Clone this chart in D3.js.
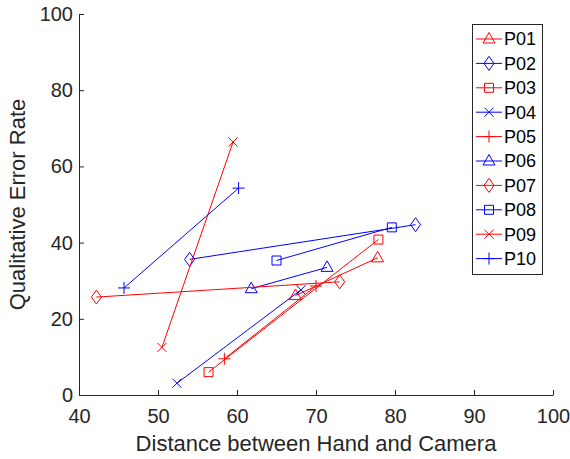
<!DOCTYPE html>
<html>
<head>
<meta charset="utf-8">
<script src="https://cdn.jsdelivr.net/npm/d3@7"></script>
<style>
  body { margin: 0; background: #fff; }
  svg { font-family: "Liberation Sans", Arial, sans-serif; }
</style>
</head>
<body>
<svg id="chart" width="570" height="459"></svg>
<script>
(function () {
    'use strict';

    // data: each participant has two points
    const participants = ["P01", "P02", "P03", "P04", "P05", "P06", "P07", "P08", "P09", "P10"];
    const distanceA = [67.4, 54.0, 56.4, 52.4, 58.4, 61.8, 42.2, 65.0, 50.5, 45.7];
    const errorA    = [26.1, 35.6,  6.0,  3.1,  9.5, 27.9, 25.7, 35.3, 12.5, 28.1];
    const distanceB = [77.8, 82.6, 77.9, 68.1, 70.0, 71.4, 73.0, 79.6, 59.5, 60.2];
    const errorB    = [36.0, 44.7, 40.8, 27.6, 28.6, 33.5, 29.7, 44.0, 66.4, 54.3];
    const xTicks = [40, 50, 60, 70, 80, 90, 100];
    const yTicks = [0, 20, 40, 60, 80, 100];

    const colours = ["red", "blue"];
    const markers = ["triangle", "diamond", "square", "cross", "plus"];

    const svg = d3.select("#chart");
    const axisColor = "#262626";

    let x = d3.scaleLinear().domain([40, 100]).range([79, 553]);
    let y = d3.scaleLinear().domain([0, 100]).range([395, 14]);

    function markerPath(kind) {
        switch (kind) {
            case "triangle": return "M0,-6.5L6,4L-6,4Z";
            case "diamond": return "M0,-7L5,0L0,7L-5,0Z";
            case "square": return "M-4.5,-4.5H4.5V4.5H-4.5Z";
            case "cross": return "M-4.5,-4.5L4.5,4.5M-4.5,4.5L4.5,-4.5";
            case "plus": return "M-6,0H6M0,-6V6";
        }
    }

    // axes, MATLAB style ticks pointing inward
    let xAxis = svg.append("g")
        .attr("transform", "translate(0," + y(0) + ")")
        .call(d3.axisBottom(x).tickValues(xTicks).tickSizeInner(-5).tickSizeOuter(0).tickPadding(14));
    let yAxis = svg.append("g")
        .attr("transform", "translate(" + x(40) + ",0)")
        .call(d3.axisLeft(y).tickValues(yTicks).tickSizeInner(-5).tickSizeOuter(0).tickPadding(6));

    [xAxis, yAxis].forEach(g => {
        g.selectAll("path, line").attr("stroke", axisColor);
        g.selectAll("text").attr("fill", axisColor).style("font-size", "20px");
    });

    svg.append("text")
        .attr("x", (x(40) + x(100)) / 2)
        .attr("y", 451)
        .attr("text-anchor", "middle")
        .attr("fill", axisColor)
        .style("font-size", "22px")
        .text("Distance between Hand and Camera");

    svg.append("text")
        .attr("transform", "translate(25," + (y(0) + y(100)) / 2 + ") rotate(-90)")
        .attr("text-anchor", "middle")
        .attr("fill", axisColor)
        .style("font-size", "22px")
        .text("Qualitative Error Rate");

    // series
    participants.forEach((name, i) => {
        let col = colours[i % 2];
        let mk = markers[i % 5];
        let pts = [[distanceA[i], errorA[i]], [distanceB[i], errorB[i]]];
        let g = svg.append("g");
        g.append("path")
            .attr("d", d3.line().x(d => x(d[0])).y(d => y(d[1]))(pts))
            .attr("fill", "none")
            .attr("stroke", col)
            .attr("stroke-width", 1);
        g.selectAll("path.mk").data(pts).join("path")
            .attr("class", "mk")
            .attr("transform", d => "translate(" + x(d[0]) + "," + y(d[1]) + ")")
            .attr("d", markerPath(mk))
            .attr("fill", "none")
            .attr("stroke", col)
            .attr("stroke-width", 1);
    });

    // legend
    let legend = svg.append("g");
    legend.append("rect")
        .attr("x", 472.5).attr("y", 24.5)
        .attr("width", 70).attr("height", 250)
        .attr("fill", "#fff")
        .attr("stroke", axisColor)
        .attr("stroke-width", 1);

    participants.forEach((name, i) => {
        let col = colours[i % 2];
        let cy = 39 + i * 24.4;
        let row = legend.append("g").attr("transform", "translate(0," + cy + ")");
        row.append("line")
            .attr("x1", 476).attr("x2", 502)
            .attr("stroke", col).attr("stroke-width", 1);
        row.append("path")
            .attr("transform", "translate(489,0)")
            .attr("d", markerPath(markers[i % 5]))
            .attr("fill", "none").attr("stroke", col).attr("stroke-width", 1);
        row.append("text")
            .attr("x", 504).attr("y", 0)
            .attr("dy", "0.36em")
            .attr("fill", "#000")
            .style("font-size", "18px")
            .text(name);
    });
})();
</script>
</body>
</html>
